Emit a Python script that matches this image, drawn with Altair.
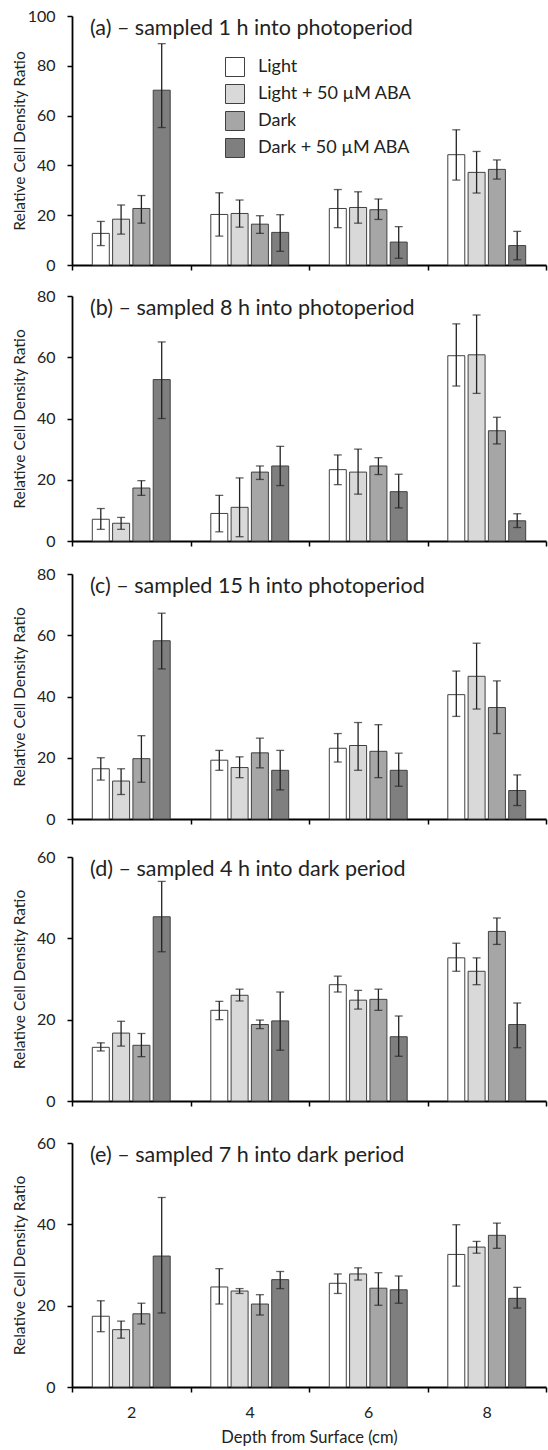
import altair as alt
import pandas as pd

depths = ["2", "4", "6", "8"]
treatments = ["Light", "Light + 50 µM ABA", "Dark", "Dark + 50 µM ABA"]
fills = ["#ffffff", "#d9d9d9", "#a6a6a6", "#7f7f7f"]

panel_titles = [
    "(a) – sampled 1 h into photoperiod",
    "(b) – sampled 8 h into photoperiod",
    "(c) – sampled 15 h into photoperiod",
    "(d) – sampled 4 h into dark period",
    "(e) – sampled 7 h into dark period",
]
y_max = [100, 80, 80, 60, 60]

# values in order: depth 2 (4 treatments), depth 4, depth 6, depth 8
a_mean = [12.7, 18.4, 22.7, 70.2, 20.3, 20.7, 16.4, 13.1, 22.7, 23.1, 22.2, 9.2, 44.3, 37.2, 38.4, 7.8]
a_low = [7.8, 12.4, 16.8, 55.2, 11.6, 15.2, 12.7, 5.5, 15.0, 16.8, 18.3, 2.7, 34.1, 28.9, 34.5, 2.1]
a_high = [17.5, 24.1, 27.9, 88.9, 29.0, 26.1, 19.8, 20.2, 30.3, 29.4, 26.5, 15.4, 54.3, 45.6, 42.2, 13.5]

b_mean = [7.1, 5.8, 17.3, 52.7, 9.0, 11.0, 22.5, 24.5, 23.3, 22.5, 24.5, 16.1, 60.5, 60.8, 36.0, 6.6]
b_low = [3.8, 3.8, 14.9, 40.0, 3.0, 1.4, 20.1, 18.1, 18.4, 15.3, 21.7, 10.8, 50.6, 48.2, 31.7, 4.4]
b_high = [10.6, 7.7, 19.7, 65.0, 14.9, 20.6, 24.5, 30.9, 28.1, 30.0, 27.2, 21.8, 70.9, 73.8, 40.4, 8.9]

c_mean = [16.4, 12.4, 19.7, 58.2, 19.2, 16.8, 21.6, 15.9, 23.1, 24.0, 22.1, 15.9, 40.6, 46.6, 36.4, 9.3]
c_low = [12.7, 8.0, 12.0, 49.0, 15.9, 13.5, 16.7, 9.5, 18.6, 15.9, 13.5, 10.7, 33.5, 35.9, 27.9, 4.4]
c_high = [20.0, 16.4, 27.2, 67.2, 22.4, 20.3, 26.4, 22.4, 27.9, 31.5, 30.8, 21.5, 48.3, 57.4, 45.1, 14.4]

d_mean = [13.2, 16.7, 13.7, 45.3, 22.3, 26.0, 18.8, 19.7, 28.6, 24.8, 25.0, 15.8, 35.2, 31.9, 41.7, 18.8]
d_low = [12.3, 13.5, 10.9, 36.7, 20.0, 24.6, 17.8, 12.5, 26.8, 22.6, 22.3, 11.0, 31.9, 28.6, 38.5, 13.1]
d_high = [14.3, 19.6, 16.6, 54.0, 24.5, 27.5, 19.9, 26.8, 30.7, 27.2, 27.5, 20.9, 38.8, 35.2, 45.0, 24.1]

e_mean = [17.4, 14.1, 18.0, 32.2, 24.6, 23.6, 20.4, 26.4, 25.5, 27.8, 24.3, 23.9, 32.6, 34.4, 37.3, 21.8]
e_low = [13.6, 12.0, 15.5, 18.2, 20.4, 23.0, 17.7, 24.2, 23.0, 26.3, 20.1, 20.6, 24.8, 32.9, 34.1, 19.4]
e_high = [21.2, 16.2, 20.6, 46.6, 29.1, 24.2, 22.7, 28.4, 27.8, 29.3, 28.1, 27.3, 39.9, 35.8, 40.3, 24.5]

panel_data = [
    (a_mean, a_low, a_high),
    (b_mean, b_low, b_high),
    (c_mean, c_low, c_high),
    (d_mean, d_low, d_high),
    (e_mean, e_low, e_high),
]

FONT = "Lato"
TXT = "#222222"
heights = [249, 245, 245, 244, 244]
x_extents = [12.5, 14.5, 19.5, 23.5, None]


def make_panel(i):
    mean, low, high = panel_data[i]
    last = i == len(panel_data) - 1
    df = pd.DataFrame({
        "depth": [d for d in depths for _ in treatments],
        "treatment": treatments * len(depths),
        "mean": mean,
        "low": low,
        "high": high,
    })
    if last:
        xaxis = alt.Axis(
            title="Depth from Surface (cm)", labelAngle=0, tickBand="extent",
            domainColor="black", domainWidth=1.8, tickColor="black", tickWidth=1.5,
            tickSize=5, labelFont=FONT, labelFontSize=16, labelColor=TXT,
            labelPadding=12, titleFont=FONT, titleFontSize=16.5,
            titleFontWeight="normal", titleColor=TXT, titlePadding=9,
        )
    else:
        xaxis = alt.Axis(
            title=None, labels=False, tickBand="extent",
            domainColor="black", domainWidth=1.8, tickColor="black", tickWidth=1.5,
            tickSize=5, minExtent=x_extents[i], maxExtent=x_extents[i],
        )
    xscale = alt.Scale(domain=depths, paddingInner=0, paddingOuter=0)
    x = alt.X("depth:N", sort=depths, scale=xscale, axis=xaxis)
    xoff = alt.XOffset("treatment:N", sort=treatments,
                       scale=alt.Scale(domain=treatments, paddingInner=0.163,
                                       paddingOuter=1))
    yscale = alt.Scale(domain=[0, y_max[i]], nice=False)
    yaxis = alt.Axis(
        title="Relative Cell Density Ratio", values=list(range(0, y_max[i] + 1, 20)),
        grid=False, domainColor="black", domainWidth=1.8, tickColor="black",
        tickWidth=1.5, tickSize=5, labelFont=FONT, labelFontSize=16,
        labelColor=TXT, labelPadding=12, titleFont=FONT, titleFontSize=15.5,
        titleFontWeight="normal", titleColor=TXT, titlePadding=0,
        minExtent=45, maxExtent=45,
    )
    if i == 0:
        legend = alt.Legend(
            title=None, orient="none", legendX=153, legendY=41,
            symbolType="square", symbolSize=361, symbolStrokeColor="#404040",
            symbolStrokeWidth=1, labelFont=FONT, labelFontSize=18,
            labelColor=TXT, labelLimit=400, rowPadding=3, labelOffset=13,
        )
    else:
        legend = None
    color = alt.Color("treatment:N", sort=treatments,
                      scale=alt.Scale(domain=treatments, range=fills),
                      legend=legend)

    base = alt.Chart(df)
    bars = base.mark_bar(stroke="#404040", strokeWidth=1).encode(
        x=x, xOffset=xoff, y=alt.Y("mean:Q", scale=yscale, axis=yaxis), color=color
    )
    rules = base.mark_rule(color="#222222", strokeWidth=1.3).encode(
        x=x, xOffset=xoff, y=alt.Y("low:Q", scale=yscale, axis=yaxis), y2="high:Q"
    )
    cap_hi = base.mark_tick(color="#222222", size=8, thickness=1.3).encode(
        x=x, xOffset=xoff, y=alt.Y("high:Q", scale=yscale, axis=yaxis)
    )
    cap_lo = base.mark_tick(color="#222222", size=8, thickness=1.3).encode(
        x=x, xOffset=xoff, y=alt.Y("low:Q", scale=yscale, axis=yaxis)
    )
    label = alt.Chart(pd.DataFrame({"t": [panel_titles[i]]})).mark_text(
        align="left", baseline="middle", font=FONT, fontSize=21.5, color=TXT
    ).encode(x=alt.value(18), y=alt.value(13), text="t:N")

    return alt.layer(bars, rules, cap_hi, cap_lo, label).properties(
        width=474, height=heights[i]
    )


chart = alt.vconcat(*[make_panel(i) for i in range(5)], spacing=10).resolve_scale(
    color="independent"
).resolve_legend(color="independent").properties(
    padding={"left": 12, "top": 8, "right": 1, "bottom": 2}
).configure(background="white").configure_view(stroke=None)

chart.save("out.html", embed_options={"renderer": "svg", "actions": False})
